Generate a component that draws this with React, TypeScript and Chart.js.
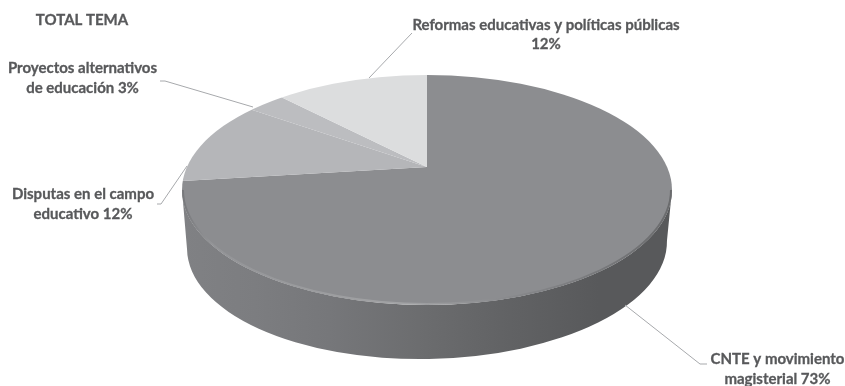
import React, { useEffect, useRef } from "react";
import { Chart, registerables } from "chart.js";

Chart.register(...registerables);

const categories = [
  "CNTE y movimiento magisterial",
  "Disputas en el campo educativo",
  "Proyectos alternativos de educación",
  "Reformas educativas y políticas públicas",
];
const shares = [73, 12, 3, 12];
const sliceColors = ["#8c8d90", "#b5b6b9", "#bcbdc0", "#dcddde"];
const heading = "TOTAL TEMA";

// Wrapped label lines, one group per slice, in the order of `categories`.
const labelLines = [
  ["CNTE y movimiento", `magisterial ${shares[0]}%`],
  ["Disputas en el campo", `educativo ${shares[1]}%`],
  ["Proyectos alternativos", `de educación ${shares[2]}%`],
  ["Reformas educativas y políticas públicas", `${shares[3]}%`],
];

// Label centres and leader-line polylines, in canvas pixels.
const labelCentres = [
  { x: 777.5, y: [359, 379] },
  { x: 83, y: [194, 214] },
  { x: 82.5, y: [68, 88] },
  { x: 546, y: [25, 44] },
];
const leaders = [
  [[707, 364], [700, 364], [625, 305]],
  [[157, 204], [161, 204], [187, 166]],
  [[160, 81], [165, 81], [253, 107]],
  [[412, 33], [369, 78]],
];

// The tilted disc: top face, its apex, and the rim of the lower face.
const disc = { cx: 427, cy: 190, rx: 245, ry: 115, apexY: 167, tilt: 0.45, reach: 305 };
const base = { cx: 427, cy: 245, rx: 240, ry: 114, turn: -0.018 };

const wallStops: [number, string][] = [
  [0, "#808184"],
  [0.15, "#7c7d80"],
  [0.3, "#76777a"],
  [0.5, "#6b6c6e"],
  [0.65, "#626365"],
  [0.85, "#58595b"],
  [1, "#58595b"],
];

const TEXT_COLOR = "#58595b";
const FONT = "700 15px Lato";

const tiltedPie = {
  id: "tiltedPie",
  beforeDatasetsDraw(chart: Chart) {
    const ctx = chart.ctx;
    const arc = chart.getDatasetMeta(0).data[0] as any;

    // Side wall below the front half of the disc.
    ctx.save();
    const wall = ctx.createLinearGradient(disc.cx - disc.rx, 0, disc.cx + disc.rx, 0);
    wallStops.forEach(([at, color]) => wall.addColorStop(at, color));
    ctx.fillStyle = wall;
    ctx.beginPath();
    ctx.ellipse(disc.cx, disc.cy, disc.rx, disc.ry, 0, 0, Math.PI);
    ctx.ellipse(base.cx, base.cy, base.rx, base.ry, base.turn, Math.PI, 0, true);
    ctx.closePath();
    ctx.fill();
    ctx.restore();

    // The slices are drawn by the chart, flattened and clipped to the top face.
    ctx.save();
    ctx.beginPath();
    ctx.ellipse(disc.cx, disc.cy, disc.rx, disc.ry, 0, 0, Math.PI * 2);
    ctx.clip();
    const scale = disc.reach / arc.outerRadius;
    ctx.translate(disc.cx, disc.apexY);
    ctx.scale(scale, scale * disc.tilt);
    ctx.translate(-arc.x, -arc.y);
  },
  afterDatasetsDraw(chart: Chart) {
    const ctx = chart.ctx;
    ctx.restore();

    // Bevel along the front edge of the top face.
    ctx.save();
    const bevel = ctx.createLinearGradient(disc.cx - disc.rx, 0, disc.cx + disc.rx, 0);
    bevel.addColorStop(0, "#77787b");
    bevel.addColorStop(0.06, "#939497");
    bevel.addColorStop(0.45, "#a2a3a5");
    bevel.addColorStop(0.7, "#858689");
    bevel.addColorStop(1, "#6a6b6d");
    ctx.strokeStyle = bevel;
    ctx.lineWidth = 2;
    ctx.beginPath();
    ctx.ellipse(disc.cx, disc.cy, disc.rx - 1, disc.ry - 1, 0, 0, Math.PI);
    ctx.stroke();
    ctx.restore();

    // Leader lines.
    ctx.save();
    ctx.strokeStyle = "#a7a9ac";
    ctx.lineWidth = 1;
    leaders.forEach((points) => {
      ctx.beginPath();
      points.forEach(([x, y], i) => (i ? ctx.lineTo(x, y) : ctx.moveTo(x, y)));
      ctx.stroke();
    });

    // Heading and slice labels, slightly thickened.
    ctx.fillStyle = TEXT_COLOR;
    ctx.strokeStyle = TEXT_COLOR;
    ctx.lineWidth = 0.3;
    ctx.font = FONT;
    ctx.textAlign = "center";
    ctx.textBaseline = "middle";
    const put = (text: string, x: number, y: number) => {
      ctx.fillText(text, x, y);
      ctx.strokeText(text, x, y);
    };
    put(heading, 82, 20);
    labelLines.forEach((lines, i) => {
      lines.forEach((line, j) => put(line, labelCentres[i].x, labelCentres[i].y[j]));
    });
    ctx.restore();
  },
};

export default function App() {
  const canvasRef = useRef<HTMLCanvasElement>(null);

  useEffect(() => {
    const chart = new Chart(canvasRef.current!, {
      type: "pie",
      data: {
        labels: categories,
        datasets: [
          {
            data: shares,
            backgroundColor: sliceColors,
            borderWidth: 0,
            clip: false,
          } as any,
        ],
      },
      options: {
        responsive: false,
        animation: false,
        layout: { padding: 0 },
        plugins: { legend: { display: false }, tooltip: { enabled: false } },
      },
      plugins: [tiltedPie],
    });
    return () => chart.destroy();
  }, []);

  return (
    <div style={{ position: "fixed", left: 0, top: 0, width: 845, height: 386, background: "#fff" }}>
      <canvas ref={canvasRef} width={845} height={386} style={{ display: "block" }} />
    </div>
  );
}
